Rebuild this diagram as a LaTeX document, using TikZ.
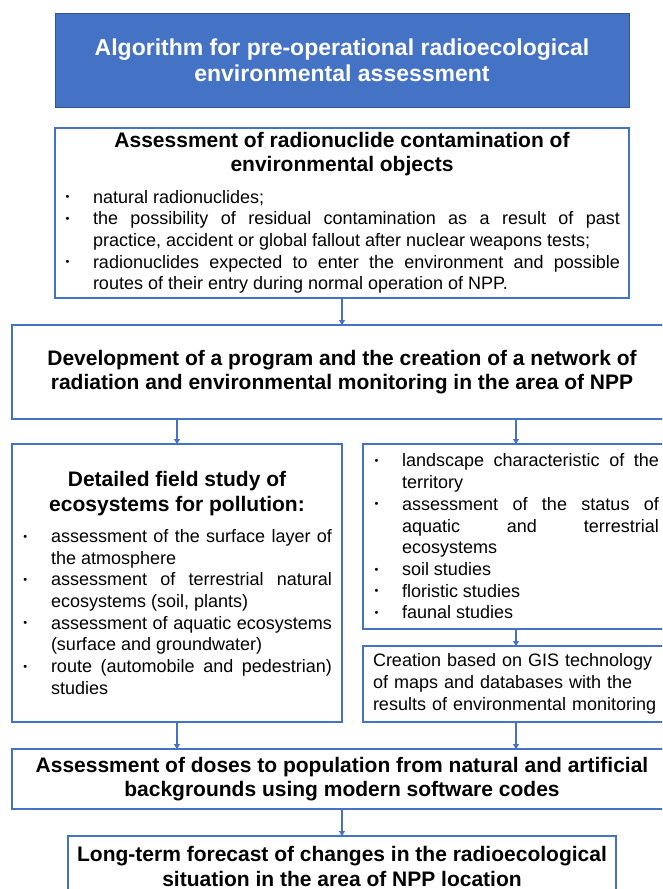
\documentclass[tikz,border=0pt]{standalone}
\usepackage{fontspec}
\setmainfont{Liberation Sans}
\usetikzlibrary{arrows.meta,positioning}
\definecolor{pblue}{HTML}{4472C4}
\hyphenpenalty=10000
\exhyphenpenalty=10000
\tolerance=9999
\newcommand{\hfont}{\fontsize{21}{24.5}\selectfont\bfseries}
\newcommand{\bfont}{\fontsize{18}{21.7}\selectfont}
\newcommand{\hd}[1]{{\centering\hfont #1\par}\vspace{9.5pt}}
\newcommand{\bitem}[1]{\hangindent=29pt\hangafter=1\noindent\makebox[29pt][l]{\hspace{1.5pt}\raisebox{2.4pt}{\fontsize{11}{11}\selectfont\textbullet}}#1\par}

\begin{document}
\begin{tikzpicture}[node distance=25pt, >={Triangle[width=6pt,length=5pt]},
    box/.style={rectangle, draw=pblue, line width=1.2pt, inner ysep=2pt, outer sep=0pt},
    head/.style={rectangle, fill=pblue, draw=pblue!75!black, line width=1pt, outer sep=0pt, text=white, align=center, font=\fontsize{23}{26}\selectfont\bfseries},
    link/.style={->, draw=pblue, line width=1.2pt}]
    \useasboundingbox (0pt,0pt) rectangle (662pt,-889pt);
    \clip (0pt,0pt) rectangle (662pt,-889pt);
    \node[head, minimum width=574pt, minimum height=94pt] (title) at (342pt,-60pt) {Algorithm for pre-operational radioecological\\environmental assessment};
    \node[box, below=21pt of title, text width=556pt, inner xsep=9pt, minimum height=170pt, align=justify, font=\bfont] (assess) {\hd{Assessment of radionuclide contamination of\\environmental objects}
      \bitem{natural radionuclides;}
      \bitem{the possibility of residual contamination as a result of past\linebreak practice, accident or global fallout after nuclear weapons tests;}
      \bitem{radionuclides expected to enter the environment and possible\linebreak routes of their entry during normal operation of NPP.}};
    \node[box, below=27pt of assess, minimum width=660pt, minimum height=94pt, align=center, font=\hfont] (dev) {Development of a program and the creation of a network of\\radiation and environmental monitoring in the area of NPP};
    \node[box, below right=25pt and 0pt of dev.south west, text width=310pt, inner xsep=10pt, minimum height=278pt, align=justify, font=\bfont] (field) {\hd{Detailed field study of\\ecosystems for pollution:}
      \bitem{assessment of the surface layer of\linebreak the atmosphere}
      \bitem{assessment of terrestrial natural\linebreak ecosystems (soil, plants)}
      \bitem{assessment of aquatic ecosystems\linebreak (surface and groundwater)}
      \bitem{route (automobile and pedestrian)\linebreak studies}};
    \node[box, below right=0pt and 21pt of field.north east, text width=286pt, inner xsep=10pt, minimum height=185pt, align=justify, font=\bfont] (eco) {\bitem{landscape characteristic of the\linebreak territory}
      \bitem{assessment of the status of\linebreak aquatic and terrestrial\linebreak ecosystems}
      \bitem{soil studies}
      \bitem{floristic studies}
      \bitem{faunal studies}};
    \node[box, below=17pt of eco, text width=286pt, inner xsep=10pt, minimum height=76pt, align=left, font=\bfont] (gis) {Creation based on GIS technology\\of maps and databases with the\\results of environmental monitoring};
    \node[box, below right=27pt and 0pt of field.south west, minimum width=660pt, minimum height=60pt, align=center, font=\hfont] (dose) {Assessment of doses to population from natural and artificial\\backgrounds using modern software codes};
    \node[box, below=27pt of dose, minimum width=548pt, minimum height=61pt, align=center, font=\hfont] (fore) {Long-term forecast of changes in the radioecological\\situation in the area of NPP location};

    \draw[link] (assess) -- (dev);
    \draw[link] (dev.south -| field) -- (field);
    \draw[link] (dev.south -| eco) -- (eco);
    \draw[link] (eco) -- (gis);
    \draw[link] (field) -- (dose.north -| field);
    \draw[link] (gis) -- (dose.north -| gis);
    \draw[link] (dose) -- (fore);
\end{tikzpicture}
\end{document}
